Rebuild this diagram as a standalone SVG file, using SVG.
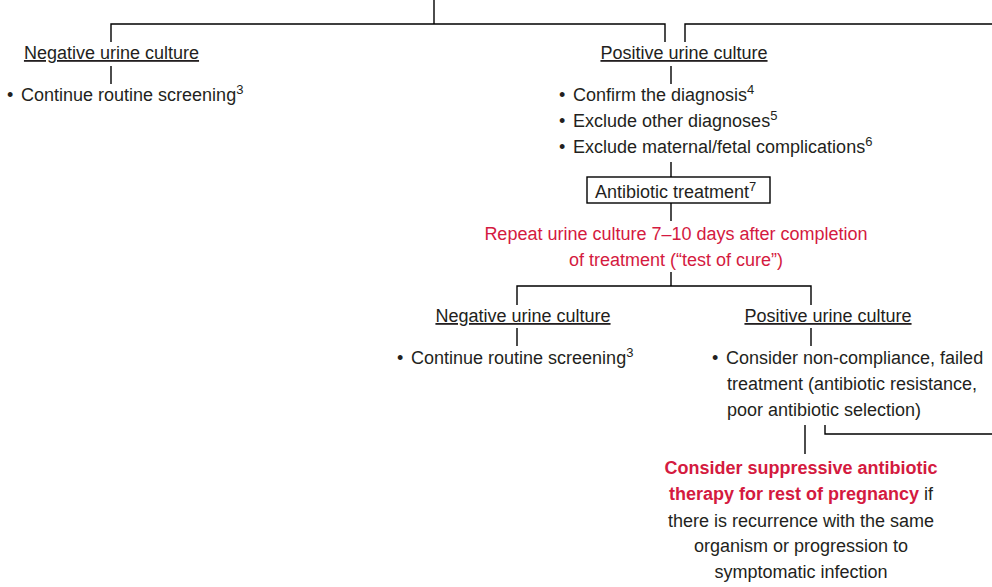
<svg xmlns="http://www.w3.org/2000/svg" width="992" height="587" viewBox="0 0 992 587">
  <style>
    text { font-family: "Liberation Sans", Arial, sans-serif; font-size: 18px; fill: #231f20; }
    .head { text-decoration: underline; text-anchor: middle; }
    .red { fill: #d41a40; }
    .mid { text-anchor: middle; }
    .b { font-weight: bold; }
    .sup { font-size: 13px; }
    .dot { font-size: 18px; }
    .conn line, .conn polyline { stroke: #000; stroke-width: 1.4; fill: none; }
    .box { fill: #fff; stroke: #000; stroke-width: 1.4; }
  </style>
  <rect width="992" height="587" fill="#fff"/>

  <g id="connectors" class="conn">
    <line x1="434" y1="0" x2="434" y2="24"/>
    <polyline points="111,42 111,24 665,24 665,42"/>
    <polyline points="685,42 685,24 992,24"/>
    <line x1="111" y1="66" x2="111" y2="84"/>
    <line x1="671" y1="66" x2="671" y2="84"/>
    <line x1="671" y1="162" x2="671" y2="177"/>
    <line x1="671" y1="203" x2="671" y2="221"/>
    <line x1="671" y1="272" x2="671" y2="286"/>
    <polyline points="517,305 517,286 811,286 811,305"/>
    <line x1="517" y1="328" x2="517" y2="346"/>
    <line x1="811" y1="328" x2="811" y2="346"/>
    <line x1="805" y1="425" x2="805" y2="454"/>
    <polyline points="825,425 825,434 992,434"/>
  </g>

  <g id="negative-1">
    <text class="head" x="111.5" y="59">Negative urine culture</text>
    <text y="101"><tspan class="dot" x="7">•</tspan><tspan x="21">Continue routine screening</tspan><tspan class="sup" dy="-7">3</tspan></text>
  </g>

  <g id="positive-1">
    <text class="head" x="684" y="59">Positive urine culture</text>
    <text y="101"><tspan class="dot" x="559">•</tspan><tspan x="573">Confirm the diagnosis</tspan><tspan class="sup" dy="-7">4</tspan></text>
    <text y="127"><tspan class="dot" x="559">•</tspan><tspan x="573">Exclude other diagnoses</tspan><tspan class="sup" dy="-7">5</tspan></text>
    <text y="153"><tspan class="dot" x="559">•</tspan><tspan x="573">Exclude maternal/fetal complications</tspan><tspan class="sup" dy="-7">6</tspan></text>
  </g>

  <g id="antibiotic-treatment">
    <rect class="box" x="587" y="177" width="183" height="26"/>
    <text x="595" y="198">Antibiotic treatment<tspan class="sup" dy="-7">7</tspan></text>
  </g>

  <g id="repeat-culture">
    <text class="red mid" x="676" y="240">Repeat urine culture 7–10 days after completion</text>
    <text class="red mid" x="676" y="266">of treatment (“test of cure”)</text>
  </g>

  <g id="negative-2">
    <text class="head" x="523" y="322">Negative urine culture</text>
    <text y="364"><tspan class="dot" x="397">•</tspan><tspan x="411">Continue routine screening</tspan><tspan class="sup" dy="-7">3</tspan></text>
  </g>

  <g id="positive-2">
    <text class="head" x="828" y="322">Positive urine culture</text>
    <text y="364"><tspan class="dot" x="712">•</tspan><tspan x="726">Consider non-compliance, failed</tspan></text>
    <text x="727" y="390">treatment (antibiotic resistance,</text>
    <text x="727" y="416">poor antibiotic selection)</text>
  </g>

  <g id="suppressive-therapy">
    <text class="red b mid" x="801" y="474">Consider suppressive antibiotic</text>
    <text class="mid" x="801" y="500"><tspan class="red b">therapy for rest of pregnancy</tspan> if</text>
    <text class="mid" x="801" y="527">there is recurrence with the same</text>
    <text class="mid" x="801" y="552">organism or progression to</text>
    <text class="mid" x="801" y="578">symptomatic infection</text>
  </g>
</svg>
